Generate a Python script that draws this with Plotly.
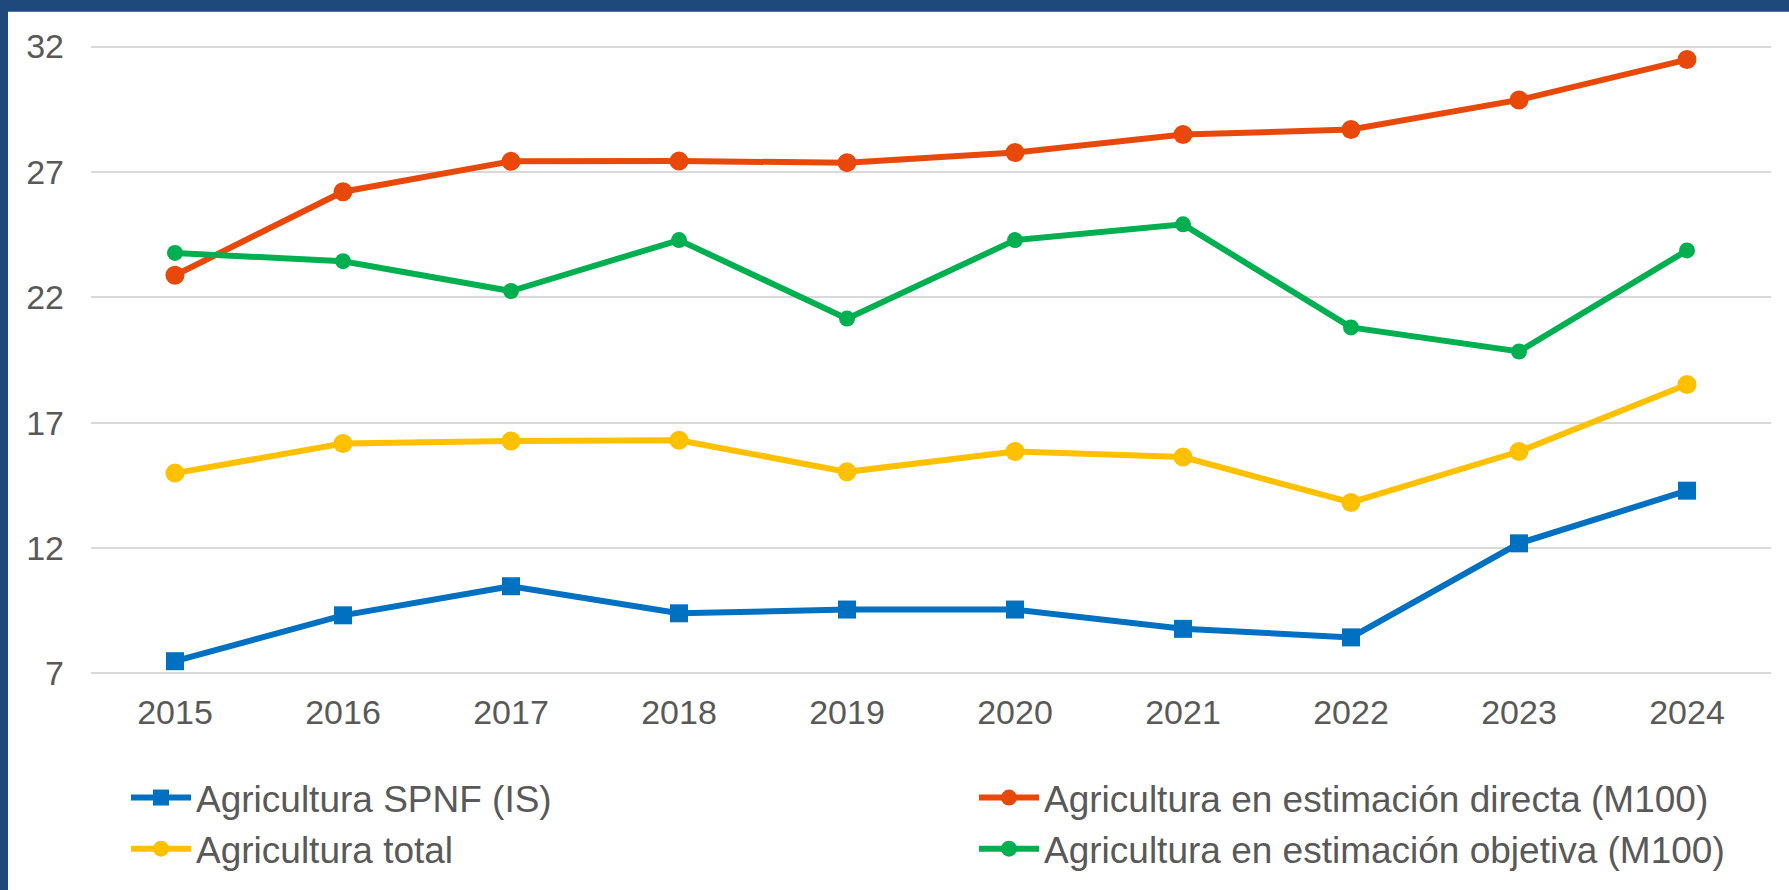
import plotly.graph_objects as go

years = ["2015", "2016", "2017", "2018", "2019", "2020", "2021", "2022", "2023", "2024"]
spnf = [7.49, 9.32, 10.48, 9.40, 9.55, 9.55, 8.78, 8.44, 12.19, 14.29]
directa = [22.88, 26.21, 27.42, 27.43, 27.37, 27.77, 28.49, 28.69, 29.87, 31.48]
total = [14.99, 16.17, 16.27, 16.30, 15.04, 15.85, 15.63, 13.82, 15.85, 18.52]
objetiva = [23.77, 23.44, 22.25, 24.28, 21.15, 24.28, 24.91, 20.80, 19.84, 23.87]
y_ticks = [7, 12, 17, 22, 27, 32]

W, H = 1789, 890
Y_TOP_PX, Y_BOT_PX = 46.7, 673.5
PXU = (Y_BOT_PX - Y_TOP_PX) / 25.0
PAD = 0.1
ML, MR = 91, 18
MT = Y_TOP_PX - PAD * PXU
MB = H - (Y_BOT_PX + PAD * PXU)
TXT = "#595959"
FONT = "Arial, Liberation Sans, sans-serif"

fig = go.Figure()
fig.add_trace(go.Scatter(x=years, y=spnf, name="Agricultura SPNF (IS)", mode="lines+markers",
                         line=dict(color="#0070C0", width=6),
                         marker=dict(symbol="square", size=18, color="#0070C0"), legend="legend"))
fig.add_trace(go.Scatter(x=years, y=total, name="Agricultura total", mode="lines+markers",
                         line=dict(color="#FFC000", width=6),
                         marker=dict(symbol="circle", size=19, color="#FFC000"), legend="legend"))
fig.add_trace(go.Scatter(x=years, y=directa, name="Agricultura en estimación directa (M100)", mode="lines+markers",
                         line=dict(color="#E8490A", width=6),
                         marker=dict(symbol="circle", size=19, color="#E8490A"), legend="legend2"))
fig.add_trace(go.Scatter(x=years, y=objetiva, name="Agricultura en estimación objetiva (M100)", mode="lines+markers",
                         line=dict(color="#00B050", width=6),
                         marker=dict(symbol="circle", size=16, color="#00B050"), legend="legend2"))

pw = W - ML - MR
ph = H - MT - MB
def px_x(p):
    return (p - ML) / pw
def px_y(p):
    return (H - MB - p) / ph

border = "#1F497D"
shapes = [
    dict(type="rect", xref="paper", yref="paper", x0=px_x(0), x1=px_x(W), y0=px_y(12), y1=px_y(0),
         fillcolor=border, line=dict(width=0), layer="below"),
    dict(type="rect", xref="paper", yref="paper", x0=px_x(0), x1=px_x(8), y0=px_y(H), y1=px_y(0),
         fillcolor=border, line=dict(width=0), layer="below"),
]

leg_common = dict(orientation="v", xref="container", yref="container", xanchor="left", yanchor="top",
                  font=dict(family=FONT, size=37, color=TXT), bgcolor="rgba(0,0,0,0)",
                  itemwidth=60, tracegroupgap=0)

fig.update_layout(
    width=W, height=H,
    margin=dict(l=ML, r=MR, t=MT, b=MB, autoexpand=False),
    paper_bgcolor="white", plot_bgcolor="white",
    font=dict(family=FONT, color=TXT),
    showlegend=True,
    shapes=shapes,
    legend=dict(x=126 / W, y=1 - 767 / H, **leg_common),
    legend2=dict(x=974 / W, y=1 - 767 / H, **leg_common),
    xaxis=dict(type="category", range=[-0.5, 9.5], showgrid=False, zeroline=False, showline=False,
               ticks="", tickangle=0, tickfont=dict(family=FONT, size=34, color=TXT),
               ticklabelstandoff=int(round(16 - PAD * PXU))),
    yaxis=dict(range=[7 - PAD, 32 + PAD], tickvals=y_ticks, showgrid=True, gridcolor="#D9D9D9", gridwidth=2,
               zeroline=False, showline=False, ticks="",
               tickfont=dict(family=FONT, size=34, color=TXT), ticklabelstandoff=26),
)

fig.write_html("out.html", config={"displayModeBar": False},
               post_script="document.body.style.margin='0';")
